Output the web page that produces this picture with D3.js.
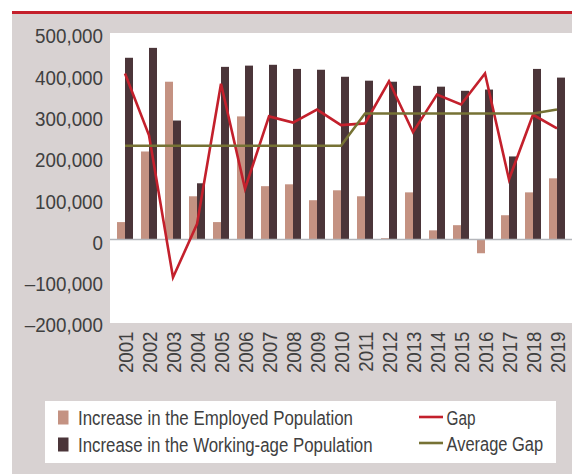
<!DOCTYPE html>
<html><head><meta charset="utf-8">
<script src="https://cdn.jsdelivr.net/npm/d3@7/dist/d3.min.js"></script>
<style>
body{margin:0;background:#fff}
svg{display:block}
text{font-family:"Liberation Sans",Arial,sans-serif}
</style>
</head><body>
<svg id="chart" width="572" height="474"></svg>
<script>
// ---- data ----
const years = ["2001","2002","2003","2004","2005","2006","2007","2008","2009","2010",
               "2011","2012","2013","2014","2015","2016","2017","2018","2019"];
const employedIncrease = [42000, 213000, 382000, 104500, 42000, 298000, 129000, 133500, 95000, 119000,
                          104500, 3000, 114000, 22000, 34500, -33500, 58600, 114000, 148000];
const workingAgeIncrease = [440000, 464000, 288000, 136000, 418000, 421000, 423000, 413000, 411000, 394000,
                            384500, 382000, 372000, 370000, 360000, 363000, 201000, 413000, 392000];
const gapValues = [402000, 252000, -92000, 37000, 377000, 123000, 298000, 283000, 314500, 277000,
                   281000, 383000, 260000, 351000, 327000, 402000, 145500, 302000, 269000];
const averageGapValues = [227000, 227000, 227000, 227000, 227000, 227000, 227000, 227000, 227000, 227000,
                          305000, 305000, 305000, 305000, 305000, 305000, 305000, 305000, 314500];
const yTickValues = [-200000, -100000, 0, 100000, 200000, 300000, 400000, 500000];
const yTickLabels = ["–200,000", "–100,000", "0", "100,000", "200,000", "300,000", "400,000", "500,000"];
const legendLabels = ["Increase in the Employed Population", "Increase in the Working-age Population", "Gap", "Average Gap"];

// ---- styles ----
const C = {
  emp: "#c49282", work: "#4b3539", gap: "#c3202c", avg: "#767234",
  bg: "#d8d2d2", topline: "#c41f2b", text: "#404040", zero: "#b4b6bb"
};

const svg = d3.select("#chart");

svg.append("rect").attr("x", 12).attr("y", 11).attr("width", 560).attr("height", 3).attr("fill", C.topline);
svg.append("rect").attr("x", 12).attr("y", 14).attr("width", 560).attr("height", 460).attr("fill", C.bg);
svg.append("rect").attr("x", 110).attr("y", 33).attr("width", 462).attr("height", 290).attr("fill", "#fff");

const y = d3.scaleLinear().domain([-200000, 500000]).range([322, 33]);
const x0 = d3.scaleBand().domain(years).range([113, 569]).paddingInner(1/3).paddingOuter(1/6);
const x1 = d3.scaleBand().domain(["emp", "work"]).range([0, x0.bandwidth()]);
const cx = yr => x0(yr) + x0.bandwidth() / 2;

// y axis
const ky = 0.895;
const yAxis = svg.append("g").attr("transform", "translate(110,0)")
  .call(d3.axisLeft(y).tickValues(yTickValues).tickSize(0).tickPadding(7)
        .tickFormat((d, i) => yTickLabels[i]));
yAxis.select(".domain").remove();
yAxis.selectAll("text")
  .attr("font-size", 21).attr("fill", C.text)
  .attr("font-family", "'Liberation Sans', Arial, sans-serif")
  .attr("x", -7 / ky).attr("dy", "0.35em").attr("y", 2.5)
  .attr("transform", `scale(${ky},1)`);

// x axis
const kx = 0.89;
const xAxis = svg.append("g").attr("transform", "translate(0,323)")
  .call(d3.axisBottom(x0).tickSize(0).tickPadding(0));
xAxis.select(".domain").remove();
xAxis.selectAll("text")
  .attr("font-size", 21).attr("fill", C.text)
  .attr("font-family", "'Liberation Sans', Arial, sans-serif")
  .attr("text-anchor", "end")
  .attr("x", -8.5 / kx).attr("y", 0).attr("dy", "0.36em")
  .attr("transform", `rotate(-90) scale(${kx},1)`);

// bars
const bars = svg.append("g");
years.forEach((yr, i) => {
  [["emp", employedIncrease[i], C.emp], ["work", workingAgeIncrease[i], C.work]].forEach(([k, v, col]) => {
    bars.append("rect")
      .attr("x", x0(yr) + x1(k))
      .attr("width", x1.bandwidth())
      .attr("y", Math.min(y(v), y(0)))
      .attr("height", Math.abs(y(v) - y(0)))
      .attr("fill", col);
  });
});

// zero line
svg.append("line").attr("x1", 110).attr("x2", 572).attr("y1", y(0)).attr("y2", y(0))
  .attr("stroke", C.zero).attr("stroke-width", 1.5);

// lines
const line = d3.line().x((d, i) => cx(years[i])).y(d => y(d));
svg.append("path").datum(gapValues).attr("d", line)
  .attr("fill", "none").attr("stroke", C.gap).attr("stroke-width", 2.6).attr("stroke-linejoin", "miter");
svg.append("path").datum(averageGapValues).attr("d", line)
  .attr("fill", "none").attr("stroke", C.avg).attr("stroke-width", 2.6);

// legend
const lg = svg.append("g");
lg.append("rect").attr("x", 45).attr("y", 401).attr("width", 511).attr("height", 62).attr("fill", "#fff");
const legendItems = [
  {label: legendLabels[0], type: "box", color: C.emp, x: 58, y: 417.5, w: 275},
  {label: legendLabels[1], type: "box", color: C.work, x: 58, y: 444.5, w: 294.6},
  {label: legendLabels[2], type: "line", color: C.gap, x: 419, y: 417, w: 29},
  {label: legendLabels[3], type: "line", color: C.avg, x: 419, y: 443, w: 96.6}
];
legendItems.forEach(it => {
  if (it.type === "box") {
    lg.append("rect").attr("x", it.x).attr("y", it.y - 7).attr("width", 10.5).attr("height", 14).attr("fill", it.color);
    lg.append("text").attr("x", 78).attr("y", it.y + 7.5).attr("font-size", 20).attr("fill", C.text)
      .attr("textLength", it.w).attr("lengthAdjust", "spacingAndGlyphs").text(it.label);
  } else {
    lg.append("line").attr("x1", it.x).attr("x2", it.x + 24).attr("y1", it.y).attr("y2", it.y)
      .attr("stroke", it.color).attr("stroke-width", 2.6);
    lg.append("text").attr("x", 446.5).attr("y", it.y + 8).attr("font-size", 20).attr("fill", C.text)
      .attr("textLength", it.w).attr("lengthAdjust", "spacingAndGlyphs").text(it.label);
  }
});
</script>
</body></html>
